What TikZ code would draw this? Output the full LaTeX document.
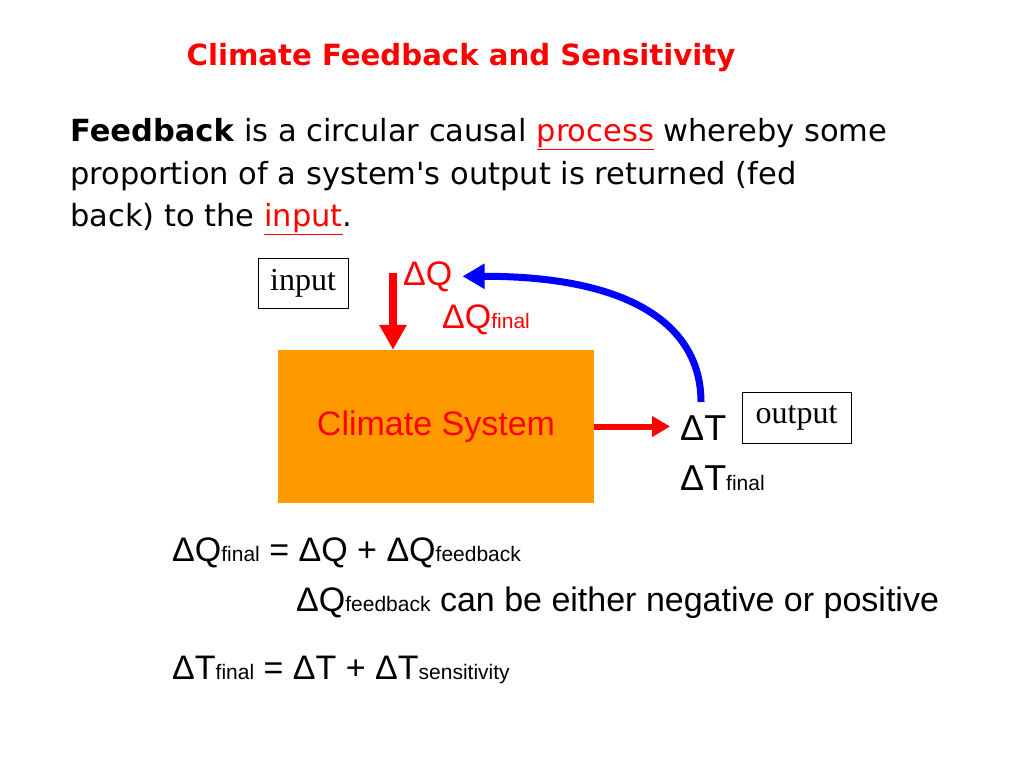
\documentclass[tikz,border=0pt]{standalone}
\usepackage{fontspec}
\setmainfont{DejaVu Sans}
\newfontfamily\arial{Liberation Sans}
\newfontfamily\romain{Liberation Serif}
\usepackage{xcolor}
\definecolor{rougevif}{HTML}{FF0000}
\definecolor{bleuvif}{HTML}{0000FF}
\definecolor{orangeclimat}{HTML}{FF9900}
\usetikzlibrary{positioning,arrows.meta}
\newcommand{\ind}[1]{{\fontsize{21}{24}\selectfont #1}}
\newcommand{\souligne}[1]{\textcolor{rougevif}{\underline{#1}}}

\begin{document}
\begin{tikzpicture}[x=1pt,y=-1pt,
  boite/.style={draw,line width=0.8pt,font=\romain\fontsize{32}{36}\selectfont,inner sep=0pt},
  formule/.style={anchor=base west,inner sep=0pt,font=\arial\fontsize{34}{40}\selectfont},
  ligne/.style={anchor=base west,inner sep=0pt,font=\fontsize{30.5}{36}\selectfont}
]
\fill[white] (0,0) rectangle (1024,768);
\useasboundingbox (0,0) rectangle (1024,768);

% titre et definition
\node[font=\bfseries\fontsize{29.2}{34}\selectfont,text=rougevif,anchor=base,inner sep=0pt] (titre) at (461,66) {Climate Feedback and Sensitivity};
\node[ligne] (l1) at (70,141) {\textbf{Feedback} is a circular causal \souligne{process} whereby some};
\node[ligne] (l2) at (70,184) {proportion of a system\textquotesingle s output is returned (fed};
\node[ligne] (l3) at (70,226) {back) to the \souligne{input}.};

% schema
\node[boite,minimum width=90pt,minimum height=50pt] (in) at (303,283) {input};
\node[boite,minimum width=109pt,minimum height=51pt] (out) at (796.5,417.5) {output};
\node[fill=orangeclimat,minimum width=316pt,minimum height=153pt,text=rougevif,font=\arial\fontsize{34}{40}\selectfont] (sys) at (436,426.5) {Climate System};
\node[formule,text=rougevif] (dQ) at (403,285) {ΔQ};
\node[formule,text=rougevif] (dQf) at (442,328) {ΔQ\ind{final}};
\node[formule,font=\arial\fontsize{36}{40}\selectfont] (dT) at (680,440) {ΔT};
\node[formule,font=\arial\fontsize{36}{40}\selectfont] (dTf) at (680,490) {ΔT\ind{final}};
\coordinate (dqin) at (393,273);
\coordinate (fb) at (701,402);
\draw[-{Triangle[length=25pt,width=26pt]},rougevif,line width=8pt] (dqin) -- (dqin |- sys.north);
\draw[-{Triangle[length=18pt,width=20pt]},rougevif,line width=6pt,shorten >=10pt] (sys.east) -- (sys.east -| dT.west);
\draw[-{Triangle[length=22pt,width=24pt]},bleuvif,line width=7pt,shorten >=10pt] (fb) .. controls (701,325) and (630,276) .. (dQ.east);

% relations
\node[formule] (eq1) at (172,561) {ΔQ\ind{final} = ΔQ + ΔQ\ind{feedback}};
\node[formule] (eq2) at (296,611) {ΔQ\ind{feedback} can be either negative or positive};
\node[formule] (eq3) at (172,679) {ΔT\ind{final} = ΔT + ΔT\ind{sensitivity}};
\end{tikzpicture}
\end{document}
